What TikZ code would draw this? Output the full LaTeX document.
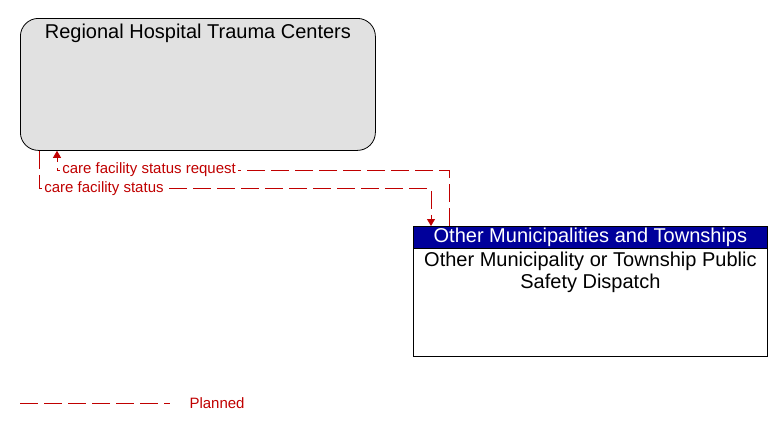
\documentclass[tikz,border=0pt]{standalone}
\usepackage{fontspec}
\setmainfont{Liberation Sans}
\usepackage{tikz}
\usetikzlibrary{arrows.meta}
\usetikzlibrary{positioning}
\definecolor{boxgray}{RGB}{225,225,225}
\definecolor{headblue}{RGB}{0,0,155}
\definecolor{flowred}{RGB}{192,0,0}
\tikzset{
  elembox/.style={draw=black, line width=0.8pt, anchor=north west, inner sep=0pt},
  flowline/.style={draw=flowred, line width=0.8pt, dash pattern=on 18pt off 6pt},
  flowtip/.style={-{Triangle[width=8pt,length=7pt]}},
  flowlabel/.style={text=flowred, fill=white, inner sep=2pt,
    font=\fontsize{15}{17}\selectfont}
}
\begin{document}
\begin{tikzpicture}[x=1pt, y=-1pt]
      \useasboundingbox (0, 0) rectangle (783, 431);

      % elements
      \node[elembox, fill=boxgray, rounded corners=18pt,
        minimum width=355pt, minimum height=132pt] (hospital) at (20, 18) {};
      \node[anchor=north, font=\fontsize{20}{22}\selectfont]
        (hosptitle) at ([yshift=-2pt]hospital.north) {Regional Hospital Trauma Centers};

      \node[elembox, fill=white, minimum width=354pt, minimum height=130pt]
        (dispatch) at (413, 226) {};
      \node[elembox, fill=headblue, text=white, minimum width=354pt, minimum height=22pt,
        font=\fontsize{20}{22}\selectfont] (disphead) at (dispatch.north west)
        {Other Municipalities and Townships};
      \node[below=3pt of disphead, align=center, inner sep=0pt,
        font=\fontsize{20}{22}\selectfont] (dispbody)
        {Other Municipality or Township Public\\Safety Dispatch};

      % flows
      \draw[flowline, flowtip] ([xshift=36pt]dispatch.north west) -- ++(0, -56)
        -| node[flowlabel, pos=0.5, anchor=west, xshift=3pt] (reqlabel)
        {care facility status request} ([xshift=37pt]hospital.south west);
      \draw[flowline, flowtip] ([xshift=19pt]hospital.south west) -- ++(0, 38)
        -| node[flowlabel, pos=0, anchor=west, xshift=3pt] (statlabel)
        {care facility status} ([xshift=18pt]dispatch.north west);

      % legend
      \coordinate (legstart) at (20, 403);
      \coordinate (legend) at (170, 403);
      \draw[flowline] (legstart) -- (legend);
      \node[anchor=west, text=flowred, font=\fontsize{15}{17}\selectfont]
        (planned) at (186, 403) {Planned};
    \end{tikzpicture}
\end{document}
